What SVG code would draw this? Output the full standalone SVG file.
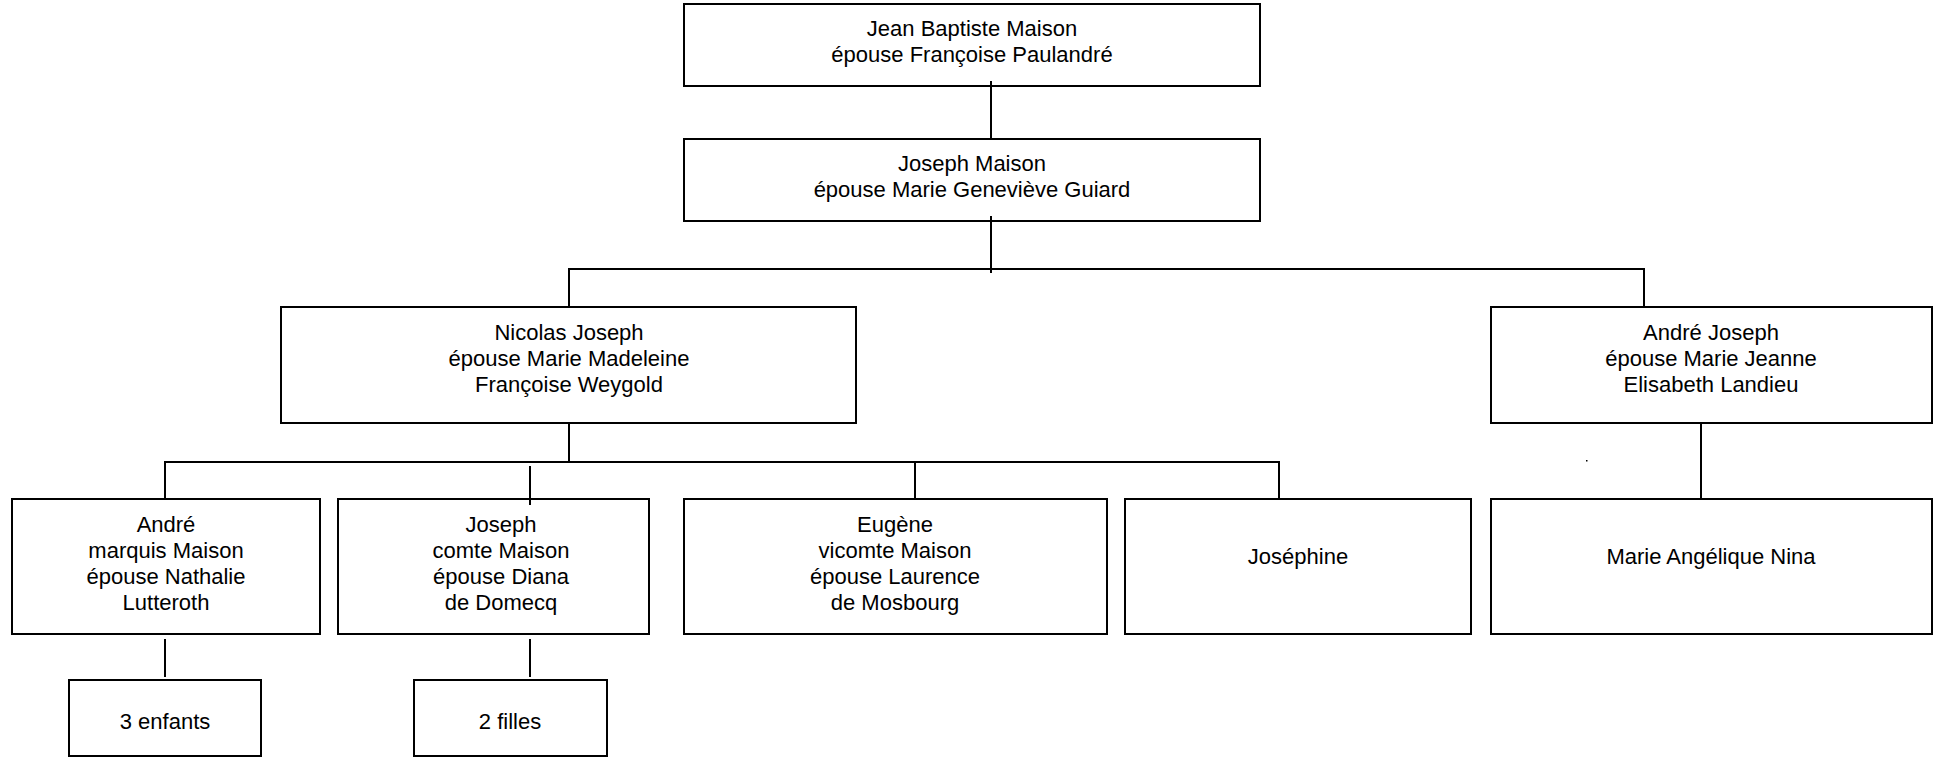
<svg xmlns="http://www.w3.org/2000/svg" width="1943" height="757" viewBox="0 0 1943 757">
<style>
.b{fill:#fff;stroke:#000;stroke-width:2}
.c{stroke:#000;stroke-width:2;fill:none}
text{font-family:"Liberation Sans",Arial,sans-serif;font-size:22px;fill:#000;text-anchor:middle}
</style>
<rect width="1943" height="757" fill="#fff"/>
<g id="n1"><rect class="b" x="684" y="4" width="576" height="82"/><text x="972" y="36">Jean Baptiste Maison</text><text x="972" y="62">épouse Françoise Paulandré</text></g>
<g id="n2"><rect class="b" x="684" y="139" width="576" height="82"/><text x="972" y="171">Joseph Maison</text><text x="972" y="197">épouse Marie Geneviève Guiard</text></g>
<g id="n3"><rect class="b" x="281" y="307" width="575" height="116"/><text x="569" y="340">Nicolas Joseph</text><text x="569" y="366">épouse Marie Madeleine</text><text x="569" y="392">Françoise Weygold</text></g>
<g id="n4"><rect class="b" x="1491" y="307" width="441" height="116"/><text x="1711" y="340">André Joseph</text><text x="1711" y="366">épouse Marie Jeanne</text><text x="1711" y="392">Elisabeth Landieu</text></g>
<g id="n5"><rect class="b" x="12" y="499" width="308" height="135"/><text x="166" y="532">André</text><text x="166" y="558">marquis Maison</text><text x="166" y="584">épouse Nathalie</text><text x="166" y="610">Lutteroth</text></g>
<g id="n6"><rect class="b" x="338" y="499" width="311" height="135"/><text x="501" y="532">Joseph</text><text x="501" y="558">comte Maison</text><text x="501" y="584">épouse Diana</text><text x="501" y="610">de Domecq</text></g>
<g id="n7"><rect class="b" x="684" y="499" width="423" height="135"/><text x="895" y="532">Eugène</text><text x="895" y="558">vicomte Maison</text><text x="895" y="584">épouse Laurence</text><text x="895" y="610">de Mosbourg</text></g>
<g id="n8"><rect class="b" x="1125" y="499" width="346" height="135"/><text x="1298" y="564">Joséphine</text></g>
<g id="n9"><rect class="b" x="1491" y="499" width="441" height="135"/><text x="1711" y="564">Marie Angélique Nina</text></g>
<g id="n10"><rect class="b" x="69" y="680" width="192" height="76"/><text x="165" y="729">3 enfants</text></g>
<g id="n11"><rect class="b" x="414" y="680" width="193" height="76"/><text x="510" y="729">2 filles</text></g>
<g id="connectors">
<line class="c" x1="991" y1="81" x2="991" y2="139"/>
<line class="c" x1="991" y1="216" x2="991" y2="273"/>
<polyline class="c" points="569,307 569,269 1644,269 1644,307"/>
<line class="c" x1="569" y1="423" x2="569" y2="462"/>
<polyline class="c" points="165,499 165,462 1279,462 1279,499"/>
<line class="c" x1="530" y1="466" x2="530" y2="505"/>
<line class="c" x1="915" y1="462" x2="915" y2="499"/>
<line class="c" x1="1701" y1="423" x2="1701" y2="499"/>
<line class="c" x1="165" y1="639" x2="165" y2="677"/>
<line class="c" x1="530" y1="639" x2="530" y2="677"/>
<rect x="1586" y="460" width="1.5" height="1.5" fill="#000"/>
</g>
</svg>
